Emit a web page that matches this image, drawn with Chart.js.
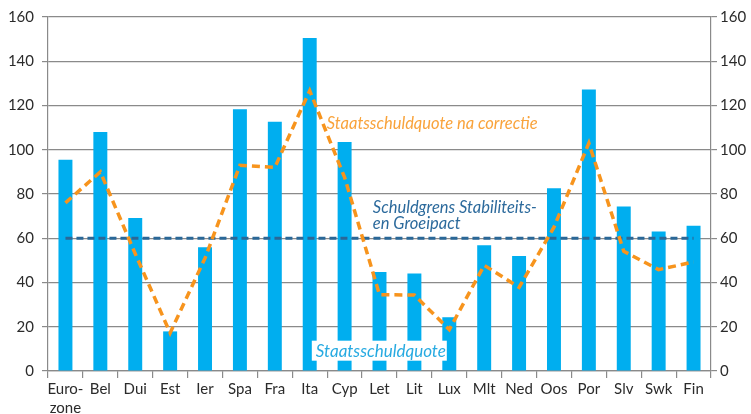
<!DOCTYPE html>
<html>
<head>
<meta charset="utf-8">
<script src="https://cdn.jsdelivr.net/npm/chart.js@4"></script>
<style>
  body { margin: 0; background: #fff; }
  #wrap { width: 751px; height: 414px; position: relative; }
</style>
</head>
<body>
<div id="wrap"><canvas id="chart"></canvas></div>
<script>
// landen (afkortingen zoals in de bron)
var categories = [['Euro-', 'zone'], 'Bel', 'Dui', 'Est', 'Ier', 'Spa', 'Fra', 'Ita', 'Cyp',
  'Let', 'Lit', 'Lux', 'Mlt', 'Ned', 'Oos', 'Por', 'Slv', 'Swk', 'Fin'];

// staatsschuld in % bbp
var schuldquote = [95.5, 108, 69.2, 17.9, 55.9, 118.3, 112.7, 150.5, 103.5,
  44.7, 44.1, 24.3, 56.8, 52.0, 82.6, 127.2, 74.4, 63.0, 65.7];

// staatsschuld na correctie
var naCorrectie = [76, 90, 53, 17.2, 51, 93, 92, 126.7, 87.5,
  34.5, 34.3, 18.7, 47.8, 37.8, 65, 103, 54.1, 45.8, 49.3];

// schuldgrens SGP
var schuldgrens = [60, 60, 60, 60, 60, 60, 60, 60, 60,
  60, 60, 60, 60, 60, 60, 60, 60, 60, 60];

var yTicks = { min: 0, max: 160, step: 20 };

var gridColor = '#8a8a8a';
var textColor = '#2b2b2b';
var tickFont = { family: 'Lato', size: 15 };

// tekstlabels in de grafiek
var labelsPlugin = {
  id: 'labels',
  afterDatasetsDraw: function(chart) {
    var ctx = chart.ctx;
    var x = chart.scales.x, y = chart.scales.y;
    ctx.save();
    ctx.textBaseline = 'middle';
    ctx.textAlign = 'left';
    ctx.font = 'italic 16.5px Lato';

    ctx.fillStyle = '#f9a33b';
    ctx.fillText('Staatsschuldquote na correctie', x.getPixelForValue(7.49), y.getPixelForValue(111.8));

    ctx.fillStyle = '#2c6a9c';
    ctx.fillText('Schuldgrens Stabiliteits-', x.getPixelForValue(8.81), y.getPixelForValue(73.9));
    ctx.fillText('en Groeipact', x.getPixelForValue(8.81), y.getPixelForValue(66.5));

    // wit kader
    var bx = x.getPixelForValue(7.06), bw = 135;
    var by = y.getPixelForValue(13.7), bh = 20;
    ctx.fillStyle = '#ffffff';
    ctx.fillRect(bx, by, bw, bh);
    ctx.fillStyle = '#27aae1';
    ctx.font = 'italic 17px Lato';
    ctx.fillText('Staatsschuldquote', bx + 4, by + bh / 2 + 1);
    ctx.restore();
  }
};

var ctx = document.getElementById('chart').getContext('2d');
var chart = new Chart(ctx, {
  type: 'bar',
  data: {
    labels: categories,
    datasets: [{
      type: 'line',
      label: 'Staatsschuldquote na correctie',
      data: naCorrectie,
      borderColor: '#f7941d',
      borderWidth: 3.5,
      borderDash: [8, 5],
      pointRadius: 0,
      fill: false,
      tension: 0,
      order: 0
    }, {
      type: 'line',
      label: 'Schuldgrens',
      data: schuldgrens,
      borderColor: '#2a6797',
      borderWidth: 3,
      borderDash: [7, 4],
      pointRadius: 0,
      fill: false,
      order: 1
    }, {
      label: 'Staatsschuldquote',
      data: schuldquote,
      backgroundColor: '#00aeef',
      barPercentage: 0.4,
      categoryPercentage: 1,
      order: 2
    }]
  },
  options: {
    responsive: true,
    maintainAspectRatio: false,
    animation: false,
    layout: { padding: { top: 17, left: 0, right: 0, bottom: 0 } },
    plugins: {
      legend: { display: false },
      tooltip: { enabled: false }
    },
    scales: {
      x: {
        grid: { offset: true, drawOnChartArea: false, drawTicks: true, tickLength: 7, color: gridColor, lineWidth: 1.2 },
        border: { display: true, color: gridColor, width: 1.2 },
        ticks: { color: textColor, font: { family: 'Lato', size: 15, lineHeight: 1.25 }, padding: 2, maxRotation: 0, autoSkip: false },
        afterFit: function(s) { s.height = 43; }
      },
      y: {
        position: 'left',
        min: yTicks.min, max: yTicks.max,
        grid: { color: gridColor, lineWidth: 1.2, tickLength: 6 },
        border: { display: true, color: gridColor, width: 1.2 },
        ticks: { stepSize: yTicks.step, color: textColor, font: tickFont, padding: 8 },
        afterFit: function(s) { s.width = 48; }
      },
      y2: {
        position: 'right',
        min: yTicks.min, max: yTicks.max,
        grid: { drawOnChartArea: false, color: gridColor, lineWidth: 1.2, tickLength: 6 },
        border: { display: true, color: gridColor, width: 1.2 },
        ticks: { stepSize: yTicks.step, color: textColor, font: tickFont, padding: 3 },
        afterFit: function(s) { s.width = 40; }
      }
    }
  },
  plugins: [labelsPlugin]
});
</script>
</body>
</html>
